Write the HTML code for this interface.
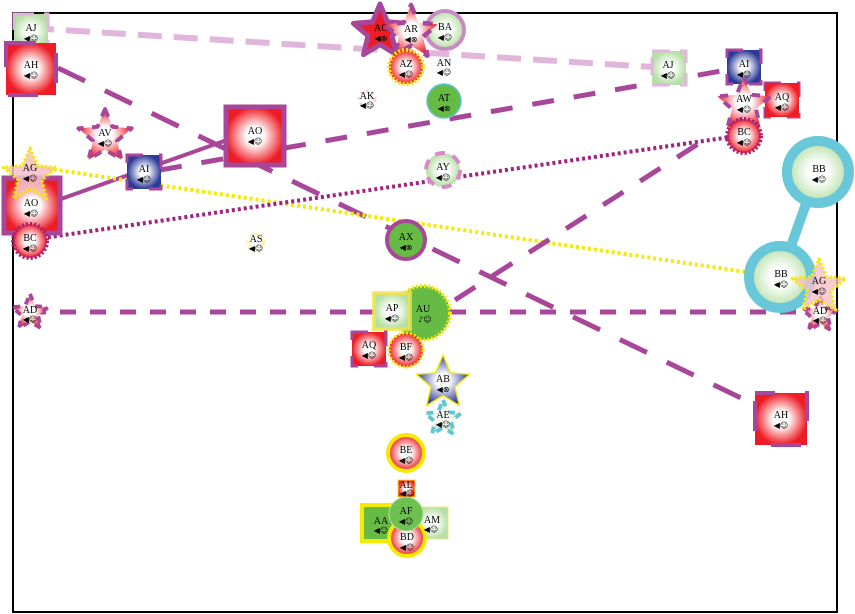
<!DOCTYPE html>
<html><head><meta charset="utf-8"><style>
html,body{margin:0;padding:0;background:#fff;}
svg{display:block}
.n{font-family:"Liberation Serif",serif;font-size:10px;text-anchor:middle;fill:#000}
.i{font-family:"DejaVu Sans",sans-serif;font-size:8px;text-anchor:middle;fill:#000}
path{stroke-linejoin:round}
</style></head><body>
<svg width="855" height="614" viewBox="0 0 855 614" xmlns="http://www.w3.org/2000/svg">
<defs>
<radialGradient id="r"><stop offset="0" stop-color="#fff"/><stop offset="0.3" stop-color="#fff"/><stop offset="1" stop-color="#ee1c24"/></radialGradient>
<radialGradient id="g"><stop offset="0" stop-color="#fff"/><stop offset="0.3" stop-color="#fff"/><stop offset="1" stop-color="#b5dfa4"/></radialGradient>
<radialGradient id="b"><stop offset="0" stop-color="#fff"/><stop offset="0.25" stop-color="#fff"/><stop offset="1" stop-color="#2b3a98"/></radialGradient>
</defs>
<rect x="13" y="13" width="824" height="599" fill="#fff" stroke="#000" stroke-width="2"/>

<line x1="30" y1="28" x2="668" y2="68" stroke="#e2b6dc" stroke-width="6" stroke-dasharray="24,12"/>
<line x1="58" y1="68" x2="770" y2="412" stroke="#a8469a" stroke-width="5" stroke-dasharray="30,22"/>
<line x1="30" y1="210" x2="255" y2="130" stroke="#a8469a" stroke-width="4"/>
<line x1="160" y1="170" x2="744" y2="67" stroke="#a8469a" stroke-width="5" stroke-dasharray="22,20"/>
<line x1="30" y1="166" x2="780" y2="277" stroke="#f5ea00" stroke-width="4" stroke-dasharray="3,3"/>
<line x1="30" y1="240" x2="744" y2="135" stroke="#a2207e" stroke-width="4" stroke-dasharray="3,3"/>
<line x1="30" y1="312" x2="820" y2="312" stroke="#a8469a" stroke-width="5" stroke-dasharray="16,14"/>
<line x1="455" y1="300" x2="712" y2="135" stroke="#a8469a" stroke-width="5" stroke-dasharray="24,20"/>
<line x1="818" y1="170" x2="780" y2="277" stroke="#68c7d8" stroke-width="10"/>

<rect x="14" y="14" width="34" height="34" fill="url(#g)" stroke="#e2b6dc" stroke-width="3" stroke-dasharray="20,10"/>
<text class="n" x="31" y="31">AJ</text><text class="i" x="31" y="41">◀☺</text>
<rect x="6" y="43" width="50" height="52" fill="url(#r)" stroke="#a8469a" stroke-width="4" stroke-dasharray="30,30"/>
<text class="n" x="31" y="68">AH</text><text class="i" x="31" y="78">◀☺</text>
<path d="M0,-1 L.265,-.364 .951,-.309 .428,.139 .588,.809 0,.45 -.588,.809 -.428,.139 -.951,-.309 -.265,-.364Z" transform="translate(105,137) scale(28)" fill="url(#r)" stroke="#a8469a" stroke-width="0.14" stroke-dasharray="0.3,0.3"/>
<text class="n" x="105" y="136">AV</text><text class="i" x="105" y="146">◀☺</text>
<rect x="226" y="107" width="58" height="58" fill="url(#r)" stroke="#a8469a" stroke-width="5"/>
<text class="n" x="255" y="134">AO</text><text class="i" x="255" y="144">◀☺</text>
<rect x="127" y="155" width="34" height="34" fill="url(#b)" stroke="#a8469a" stroke-width="3" stroke-dasharray="16,16"/>
<text class="n" x="144" y="172">AI</text><text class="i" x="144" y="182">◀☺</text>
<rect x="4" y="178" width="56" height="55" fill="url(#r)" stroke="#a8469a" stroke-width="5"/>
<text class="n" x="31" y="206">AO</text><text class="i" x="31" y="216">◀☺</text>
<path d="M0,-1 L.265,-.364 .951,-.309 .428,.139 .588,.809 0,.45 -.588,.809 -.428,.139 -.951,-.309 -.265,-.364Z" transform="translate(30,176) scale(28)" fill="#f5c0c8" fill-opacity="0.85" stroke="#f5ea00" stroke-width="0.12" stroke-dasharray="0.08,0.08"/>
<text class="n" x="30" y="171">AG</text><text class="i" x="30" y="181">◀☺</text>
<circle cx="30" cy="241" r="17" fill="url(#r)" stroke="#a2207e" stroke-width="4" stroke-dasharray="2,2"/>
<text class="n" x="30" y="241">BC</text><text class="i" x="30" y="251">◀☺</text>
<circle cx="256" cy="242" r="8" fill="#fff" stroke="#fbf4a0" stroke-width="3" stroke-dasharray="3,3"/>
<text class="n" x="256" y="242">AS</text><text class="i" x="256" y="251">◀☺</text>
<path d="M0,-1 L.265,-.364 .951,-.309 .428,.139 .588,.809 0,.45 -.588,.809 -.428,.139 -.951,-.309 -.265,-.364Z" transform="translate(30,313) scale(19)" fill="url(#r)" stroke="#a8469a" stroke-width="0.2" stroke-dasharray="0.35,0.35"/>
<text class="n" x="30" y="313">AD</text><text class="i" x="30" y="322">◀☺</text>

<path d="M0,-1 L.265,-.364 .951,-.309 .428,.139 .588,.809 0,.45 -.588,.809 -.428,.139 -.951,-.309 -.265,-.364Z" transform="translate(380,32) scale(28)" fill="#ee1c24" stroke="#a8469a" stroke-width="0.18"/>
<text class="n" x="381" y="31">AC</text><text class="i" x="381" y="41">◀⊗</text>
<circle cx="445" cy="30" r="19" fill="url(#g)" stroke="#c98bc3" stroke-width="4"/>
<path d="M0,-1 L.265,-.364 .951,-.309 .428,.139 .588,.809 0,.45 -.588,.809 -.428,.139 -.951,-.309 -.265,-.364Z" transform="translate(411,33) scale(28)" fill="url(#r)" stroke="#a8469a" stroke-width="0.16" stroke-dasharray="0.35,0.5"/>
<text class="n" x="411" y="32">AR</text><text class="i" x="411" y="42">◀⊗</text>
<text class="n" x="445" y="30">BA</text><text class="i" x="445" y="40">◀☺</text>
<circle cx="406" cy="67" r="17" fill="url(#r)" stroke="#f5ea00" stroke-width="4" stroke-dasharray="2,2"/>
<text class="n" x="406" y="67">AZ</text><text class="i" x="406" y="77">◀☺</text>
<text class="n" x="444" y="66">AN</text><text class="i" x="444" y="75">◀☺</text>
<circle cx="367" cy="99" r="8" fill="#fff" stroke="#f0d0ea" stroke-width="3" stroke-dasharray="3,3"/>
<text class="n" x="367" y="99">AK</text><text class="i" x="367" y="108">◀☺</text>
<circle cx="444" cy="101" r="17" fill="#66bb44" stroke="#5ec6d8" stroke-width="1.5"/>
<text class="n" x="444" y="101">AT</text><text class="i" x="444" y="111">◀⊗</text>
<circle cx="443" cy="170" r="17" fill="url(#g)" stroke="#d68ac8" stroke-width="4" stroke-dasharray="10,8"/>
<text class="n" x="443" y="170">AY</text><text class="i" x="443" y="180">◀☺</text>
<circle cx="406" cy="240" r="19" fill="#66bb44" stroke="#a8469a" stroke-width="4"/>
<text class="n" x="406" y="240">AX</text><text class="i" x="406" y="250">◀⊗</text>

<circle cx="423" cy="313" r="27" fill="#66bb44" stroke="#f5ea00" stroke-width="4" stroke-dasharray="2,2"/>
<rect x="374" y="293" width="36" height="36" fill="url(#g)" stroke="#f0e34a" stroke-width="4" stroke-opacity="0.8"/>
<text class="n" x="392" y="311">AP</text><text class="i" x="392" y="321">◀☺</text>
<text class="n" x="423" y="312">AU</text><text class="i" x="425" y="322">♪☺</text>
<rect x="352" y="332" width="34" height="34" fill="url(#r)" stroke="#a8469a" stroke-width="3" stroke-dasharray="16,16"/>
<text class="n" x="369" y="348">AQ</text><text class="i" x="369" y="358">◀☺</text>
<circle cx="406" cy="350" r="17" fill="url(#r)" stroke="#f5ea00" stroke-width="3" stroke-dasharray="2,2"/>
<text class="n" x="406" y="350">BF</text><text class="i" x="406" y="360">◀☺</text>
<path d="M0,-1 L.265,-.364 .951,-.309 .428,.139 .588,.809 0,.45 -.588,.809 -.428,.139 -.951,-.309 -.265,-.364Z" transform="translate(443,383) scale(28)" fill="url(#b)" stroke="#f5ea00" stroke-width="0.05"/>
<text class="n" x="443" y="382">AB</text><text class="i" x="443" y="392">◀⊗</text>
<path d="M0,-1 L.265,-.364 .951,-.309 .428,.139 .588,.809 0,.45 -.588,.809 -.428,.139 -.951,-.309 -.265,-.364Z" transform="translate(443,419) scale(19)" fill="url(#g)" stroke="#5ec6d8" stroke-width="0.2" stroke-dasharray="0.35,0.35"/>
<text class="n" x="443" y="418">AE</text><text class="i" x="443" y="427">◀☺</text>
<circle cx="406" cy="453" r="18" fill="url(#r)" stroke="#f5ea00" stroke-width="4"/>
<text class="n" x="406" y="453">BE</text><text class="i" x="406" y="463">◀☺</text>
<rect x="398" y="480" width="17" height="17" fill="url(#r)" stroke="#f5ea00" stroke-width="1"/>
<text class="n" x="406" y="488">AL</text><text class="i" x="407" y="496">◀☺</text>
<rect x="362" y="505" width="36" height="36" fill="#66bb44" stroke="#f5ea00" stroke-width="4"/>
<rect x="416" y="507" width="32" height="32" fill="url(#g)" stroke="#f0ea80" stroke-width="1"/>
<circle cx="407" cy="538" r="18" fill="url(#r)" stroke="#f5ea00" stroke-width="4"/>
<circle cx="406" cy="514" r="17" fill="#6ec050" stroke="#b8e0a8" stroke-width="1"/>
<text class="n" x="381" y="524">AA</text><text class="i" x="381" y="533">◀☺</text>
<text class="n" x="432" y="523">AM</text><text class="i" x="431" y="532">◀☺</text>
<text class="n" x="406" y="514">AF</text><text class="i" x="406" y="524">◀☺</text>
<text class="n" x="407" y="540">BD</text><text class="i" x="407" y="550">◀☺</text>

<rect x="652" y="51" width="34" height="34" fill="url(#g)" stroke="#e2b6dc" stroke-width="3" stroke-dasharray="18,10"/>
<text class="n" x="668" y="68">AJ</text><text class="i" x="668" y="78">◀☺</text>
<rect x="727" y="50" width="34" height="34" fill="url(#b)" stroke="#a8469a" stroke-width="3" stroke-dasharray="16,16"/>
<text class="n" x="744" y="67">AI</text><text class="i" x="744" y="77">◀☺</text>
<rect x="765" y="83" width="34" height="34" fill="#ee1c24" stroke="#a8469a" stroke-width="3" stroke-dasharray="16,16"/>
<rect x="765" y="83" width="34" height="34" fill="url(#r)"/>
<text class="n" x="782" y="100">AQ</text><text class="i" x="782" y="110">◀☺</text>
<path d="M0,-1 L.265,-.364 .951,-.309 .428,.139 .588,.809 0,.45 -.588,.809 -.428,.139 -.951,-.309 -.265,-.364Z" transform="translate(744,105) scale(28)" fill="url(#r)" stroke="#a8469a" stroke-width="0.14" stroke-dasharray="0.3,0.4"/>
<text class="n" x="744" y="102">AW</text><text class="i" x="744" y="112">◀☺</text>
<circle cx="744" cy="136" r="17" fill="url(#r)" stroke="#a2207e" stroke-width="4" stroke-dasharray="2,2"/>
<text class="n" x="744" y="135">BC</text><text class="i" x="744" y="145">◀☺</text>
<circle cx="818" cy="172" r="31" fill="url(#g)" stroke="#68c7d8" stroke-width="10"/>
<text class="n" x="819" y="172">BB</text><text class="i" x="819" y="182">◀☺</text>
<circle cx="780" cy="277" r="31" fill="url(#g)" stroke="#68c7d8" stroke-width="10"/>
<text class="n" x="781" y="277">BB</text><text class="i" x="781" y="287">◀☺</text>
<path d="M0,-1 L.265,-.364 .951,-.309 .428,.139 .588,.809 0,.45 -.588,.809 -.428,.139 -.951,-.309 -.265,-.364Z" transform="translate(820,315) scale(19)" fill="url(#r)" stroke="#a8469a" stroke-width="0.2" stroke-dasharray="0.35,0.35"/>
<text class="n" x="820" y="314">AD</text><text class="i" x="820" y="323">◀☺</text>
<path d="M0,-1 L.265,-.364 .951,-.309 .428,.139 .588,.809 0,.45 -.588,.809 -.428,.139 -.951,-.309 -.265,-.364Z" transform="translate(819,287) scale(28)" fill="#f5c0c8" fill-opacity="0.8" stroke="#f5ea00" stroke-width="0.12" stroke-dasharray="0.08,0.08"/>
<text class="n" x="819" y="284">AG</text><text class="i" x="819" y="294">◀☺</text>
<rect x="755" y="393" width="52" height="52" fill="url(#r)" stroke="#a8469a" stroke-width="4" stroke-dasharray="30,30" stroke-dashoffset="10"/>
<text class="n" x="781" y="418">AH</text><text class="i" x="781" y="428">◀☺</text>
</svg>
</body></html>
